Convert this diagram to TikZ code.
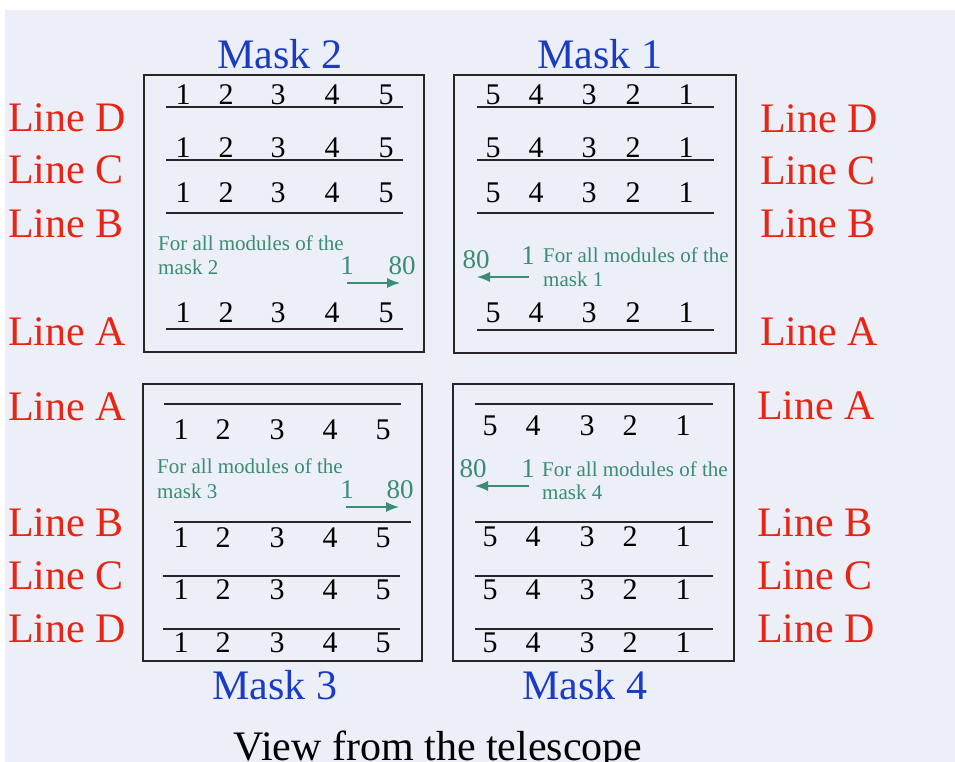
\documentclass[tikz,border=0pt]{standalone}
\usepackage{fontspec}
\setmainfont{Liberation Serif}
\usetikzlibrary{arrows.meta}
\definecolor{bg}{HTML}{ECEEF8}
\definecolor{lred}{HTML}{E82412}
\definecolor{mblue}{HTML}{1A3CC2}
\definecolor{mgreen}{HTML}{3A8C72}
\begin{document}
\begin{tikzpicture}[x=1pt,y=-1pt,
  num/.style={font=\fontsize{30}{30}\selectfont, anchor=base, inner sep=0pt},
  lbl/.style={text=lred, font=\fontsize{42}{42}\selectfont, anchor=base west, inner sep=0pt},
  masklbl/.style={text=mblue, font=\fontsize{42}{42}\selectfont, anchor=base, inner sep=0pt},
  note/.style={text=mgreen, font=\fontsize{21}{21}\selectfont, anchor=base west, inner sep=0pt},
  gnum/.style={text=mgreen, font=\fontsize{27}{27}\selectfont, anchor=base, inner sep=0pt},
  title/.style={font=\fontsize{42}{42}\selectfont, anchor=base, inner sep=0pt},
  maskbox/.style={draw=black!85, line width=1.5pt},
  rule/.style={draw=black!85, line width=1.4pt},
  garrow/.style={draw=mgreen, line width=1.2pt, -{Latex[length=13pt,width=10pt]}}]
\fill[bg] (0,0) rectangle (955,762);
\fill[white] (0,0) rectangle (955,10);
\fill[white] (0,0) rectangle (5,762);
\useasboundingbox (0,0) rectangle (955,762);

% boxes
\draw[maskbox] (144,75) rectangle (424,352);
\draw[maskbox] (454,75) rectangle (736,353);
\draw[maskbox] (143,384) rectangle (422,661);
\draw[maskbox] (453,384) rectangle (734,661);

% mask titles
\node[masklbl] (t2) at (280,69) {Mask 2};
\node[masklbl] (t1) at (600,69) {Mask 1};
\node[masklbl] (t3) at (275,699) {Mask 3};
\node[masklbl] (t4) at (585,699) {Mask 4};
\node[title] (view) at (438,760) {View from the telescope};

% left labels
\node[lbl] (lD1) at (8,132) {Line D};
\node[lbl] (lC1) at (8,184) {Line C};
\node[lbl] (lB1) at (8,237) {Line B};
\node[lbl] (lA1) at (8,345) {Line A};
\node[lbl] (lA2) at (8,420) {Line A};
\node[lbl] (lB2) at (8,536) {Line B};
\node[lbl] (lC2) at (8,589) {Line C};
\node[lbl] (lD2) at (8,642) {Line D};
% right labels
\node[lbl] (rD1) at (760,133) {Line D};
\node[lbl] (rC1) at (760,185) {Line C};
\node[lbl] (rB1) at (760,237) {Line B};
\node[lbl] (rA1) at (760,345) {Line A};
\node[lbl] (rA2) at (757,419) {Line A};
\node[lbl] (rB2) at (757,536) {Line B};
\node[lbl] (rC2) at (757,589) {Line C};
\node[lbl] (rD2) at (757,642) {Line D};

% Mask 2 rows
\foreach \b/\r in {105/1,158/2,203/3,322/4}{
  \foreach \x/\n in {183/1,226/2,278/3,332/4,386/5}{
    \node[num] (mb\r n\n) at (\x,\b) {\n};
  }
}
\foreach \y in {107,160,213,329}{ \draw[rule] (166,\y) -- (403,\y); }

% Mask 1 rows
\foreach \b/\r in {105/1,158/2,203/3,322/4}{
  \foreach \x/\n in {493/5,536/4,589/3,633/2,686/1}{
    \node[num] (ma\r n\n) at (\x,\b) {\n};
  }
}
\foreach \y in {107,160,213,330}{ \draw[rule] (477,\y) -- (714,\y); }

% Mask 3 rows
\foreach \b/\r in {439/1,547/2,599/3,652/4}{
  \foreach \x/\n in {181/1,223/2,277/3,330/4,383/5}{
    \node[num] (mc\r n\n) at (\x,\b) {\n};
  }
}
\draw[rule] (164,404) -- (401,404);
\draw[rule] (174,522) -- (411,522);
\draw[rule] (163,576) -- (400,576);
\draw[rule] (163,629) -- (400,629);

% Mask 4 rows
\foreach \b/\r in {435/1,546/2,599/3,652/4}{
  \foreach \x/\n in {490/5,533/4,587/3,630/2,683/1}{
    \node[num] (md\r n\n) at (\x,\b) {\n};
  }
}
\foreach \y in {404,522,576,629}{ \draw[rule] (475,\y) -- (713,\y); }

% green notes
\node[note] (n2a) at (158,250) {For all modules of the};
\node[note] (n2b) at (158,274) {mask 2};
\node[gnum] (g2s) at (347,274) {1};
\node[gnum] (g2e) at (402,274) {80};
\coordinate (a2s) at (347,283); \coordinate (a2e) at (400,283);
\draw[garrow] (a2s) -- (a2e);

\node[note] (n1a) at (543,262) {For all modules of the};
\node[note] (n1b) at (543,286) {mask 1};
\node[gnum] (g1s) at (528,264) {1};
\node[gnum] (g1e) at (476,268) {80};
\coordinate (a1s) at (529,277); \coordinate (a1e) at (477,277);
\draw[garrow] (a1s) -- (a1e);

\node[note] (n3a) at (157,473) {For all modules of the};
\node[note] (n3b) at (157,498) {mask 3};
\node[gnum] (g3s) at (347,498) {1};
\node[gnum] (g3e) at (400,498) {80};
\coordinate (a3s) at (346,507); \coordinate (a3e) at (399,507);
\draw[garrow] (a3s) -- (a3e);

\node[note] (n4a) at (542,476) {For all modules of the};
\node[note] (n4b) at (542,499) {mask 4};
\node[gnum] (g4s) at (528,477) {1};
\node[gnum] (g4e) at (473,477) {80};
\coordinate (a4s) at (529,486); \coordinate (a4e) at (475,486);
\draw[garrow] (a4s) -- (a4e);
\end{tikzpicture}
\end{document}
